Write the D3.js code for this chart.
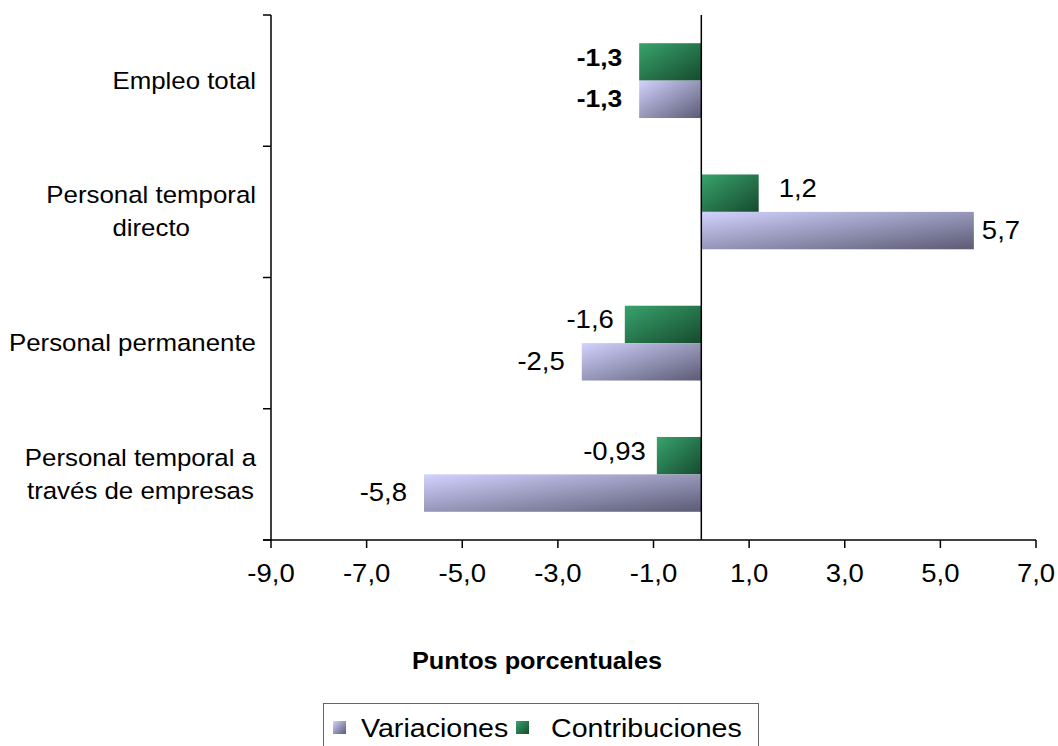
<!DOCTYPE html>
<html>
<head>
<meta charset="utf-8">
<script src="https://cdn.jsdelivr.net/npm/d3@7"></script>
<style>
  html, body { margin: 0; padding: 0; background: #fff; }
  svg { display: block; }
  text { font-family: "Liberation Sans", Arial, sans-serif; fill: #000; }
</style>
</head>
<body>
<svg id="chart" width="1058" height="746"></svg>
<script>
// ---- data ----
const categories = ["Empleo total", "Personal temporal directo", "Personal permanente", "Personal temporal a través de empresas"];
const categoryLines = [["Empleo total"], ["Personal temporal", "directo"], ["Personal permanente"], ["Personal temporal a", "través de empresas"]];
const variaciones = [-1.3, 5.7, -2.5, -5.8];
const contribuciones = [-1.3, 1.2, -1.6, -0.93];
const xTicks = [-9, -7, -5, -3, -1, 1, 3, 5, 7];
const seriesNames = ["Variaciones", "Contribuciones"];
const axisTitle = "Puntos porcentuales";

// ---- setup ----
const svg = d3.select("#chart");
const SX = 1.1; // horizontal stretch of text as in the reference
const comma = v => String(v).replace(".", ",");

const x = d3.scaleLinear().domain([-9, 7]).range([271, 1036]);
const y = d3.scaleBand().domain(categories).range([15, 540]).paddingInner(0.43).paddingOuter(0.215);
const half = y.bandwidth() / 2;

function txt(parent, px, py, str, size, anchor, weight) {
  return parent.append("text")
    .attr("transform", `translate(${px},${py}) scale(${SX},1)`)
    .attr("text-anchor", anchor || "start")
    .style("font-size", size + "px")
    .style("font-weight", weight || "normal")
    .text(str);
}

// gradients
const defs = svg.append("defs");
function grad(id, c0, c1) {
  const g = defs.append("linearGradient").attr("id", id)
    .attr("x1", 0).attr("y1", 0).attr("x2", 1).attr("y2", 1);
  g.append("stop").attr("offset", "0%").attr("stop-color", c0);
  g.append("stop").attr("offset", "100%").attr("stop-color", c1);
}
grad("gVar", "#d2d2ff", "#5b5b74");
grad("gCon", "#38a36c", "#164a2e");

// bars
const rows = categories.map((c, i) => ({ cat: c, v: variaciones[i], k: contribuciones[i], i }));

svg.append("g").selectAll("rect").data(rows).join("rect")
  .attr("x", d => x(Math.min(0, d.k)))
  .attr("width", d => Math.abs(x(d.k) - x(0)))
  .attr("y", d => y(d.cat))
  .attr("height", half)
  .attr("fill", "url(#gCon)");

svg.append("g").selectAll("rect").data(rows).join("rect")
  .attr("x", d => x(Math.min(0, d.v)))
  .attr("width", d => Math.abs(x(d.v) - x(0)))
  .attr("y", d => y(d.cat) + half)
  .attr("height", half)
  .attr("fill", "url(#gVar)");

// data labels
const lbl = svg.append("g");
rows.forEach(d => {
  const bold = d.i === 0 ? "bold" : "normal";
  const size = d.i === 0 ? 24 : 25;
  // contribuciones
  const kg = d.k < 0 ? (d.i === 0 ? 17 : 11) : 20;
  const kx = d.k < 0 ? x(d.k) - kg : x(d.k) + kg;
  txt(lbl, kx, y(d.cat) + half / 2 + 4, comma(d.k), size, d.k < 0 ? "end" : "start", bold);
  // variaciones
  const vg = d.v < 0 ? 17 : 8;
  const vx = d.v < 0 ? x(d.v) - vg : x(d.v) + vg;
  txt(lbl, vx, y(d.cat) + half * 1.5 + 8, comma(d.v), size, d.v < 0 ? "end" : "start", bold);
});

// axes lines
const ax = svg.append("g").attr("stroke", "#000").attr("stroke-width", 1.5);
ax.append("line").attr("x1", 271).attr("x2", 271).attr("y1", 15).attr("y2", 540);
ax.append("line").attr("x1", 263).attr("x2", 1036).attr("y1", 540).attr("y2", 540);
ax.append("line").attr("x1", x(0)).attr("x2", x(0)).attr("y1", 15).attr("y2", 540);
// left ticks at band boundaries
const bounds = categories.map(c => y(c) - y.step() * y.paddingInner() / 2).concat([540]);
bounds[0] = 15;
ax.selectAll(".yt").data(bounds).join("line")
  .attr("x1", 263).attr("x2", 271).attr("y1", d => d).attr("y2", d => d);
// bottom ticks
ax.selectAll(".xt").data(xTicks).join("line")
  .attr("x1", d => x(d)).attr("x2", d => x(d)).attr("y1", 540).attr("y2", 548);

// tick labels
const tl = svg.append("g");
xTicks.forEach(t => txt(tl, x(t), 582, d3.format(".1f")(t).replace(".", ",").replace("−", "-"), 25, "middle"));

// category labels (right-aligned block, lines centered)
const cl = svg.append("g");
categoryLines.forEach((lines, i) => {
  const cy = y(categories[i]) + y.bandwidth() / 2;
  const lh = 33;
  const nodes = lines.map(s => txt(cl, 0, 0, s, 23.5, "middle"));
  const widths = nodes.map(n => n.node().getComputedTextLength() * SX);
  const maxW = d3.max(widths);
  const cx = 256 - maxW / 2;
  nodes.forEach((n, j) => {
    const ly = cy + (j - (lines.length - 1) / 2) * lh + 8;
    n.attr("transform", `translate(${cx},${ly}) scale(${SX},1)`);
  });
});

// axis title
txt(svg, 537, 669, axisTitle, 23, "middle", "bold");

// legend
const lg = svg.append("g");
lg.append("rect").attr("x", 323.5).attr("y", 703.5).attr("width", 435).attr("height", 60)
  .attr("fill", "#fff").attr("stroke", "#666").attr("stroke-width", 1);
lg.append("rect").attr("x", 333).attr("y", 721).attr("width", 13).attr("height", 13).attr("fill", "url(#gVar)");
txt(lg, 361, 737, seriesNames[0], 26, "start");
lg.append("rect").attr("x", 516).attr("y", 721).attr("width", 13).attr("height", 13).attr("fill", "url(#gCon)");
txt(lg, 551, 737, seriesNames[1], 26, "start");
</script>
</body>
</html>
